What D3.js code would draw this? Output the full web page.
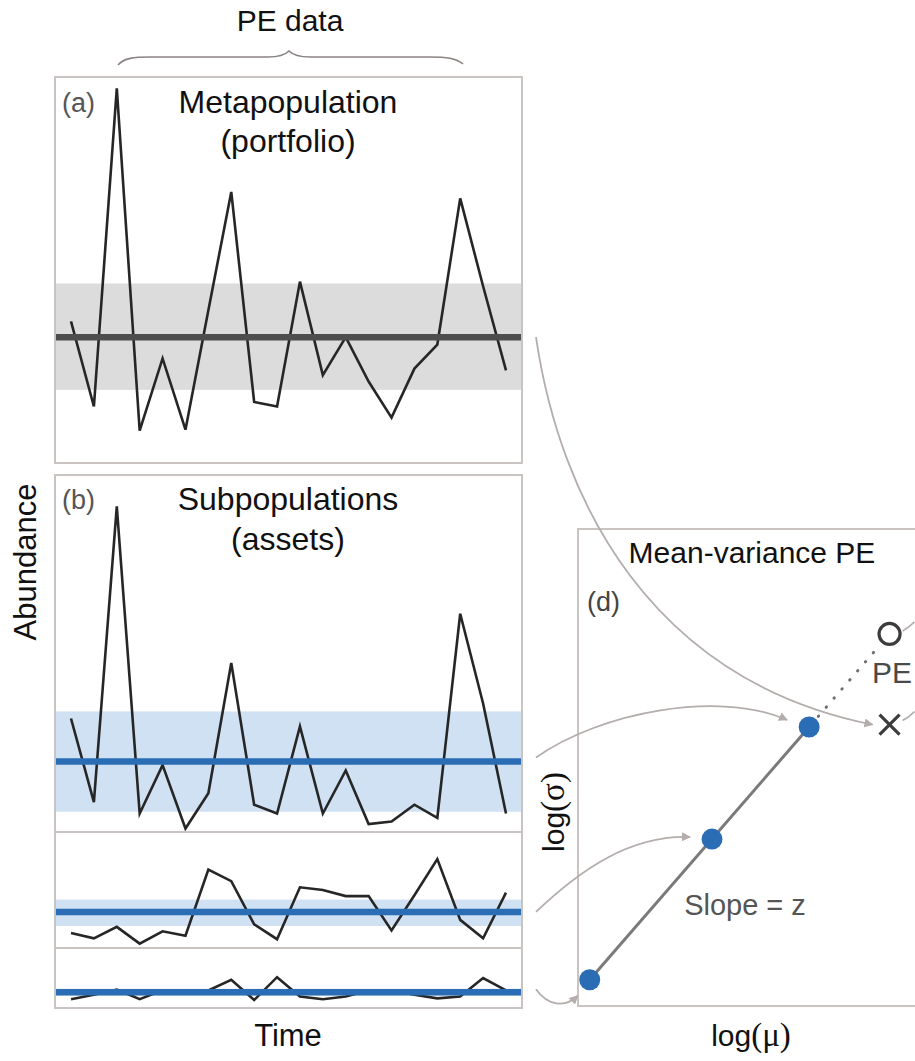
<!DOCTYPE html>
<html lang="en">
<head>
<meta charset="utf-8">
<title>Portfolio effect</title>
<script src="https://d3js.org/d3.v7.min.js"></script>
<style>
body { margin: 0; background: #fff; }
text { font-family: "Liberation Sans", Arial, Helvetica, sans-serif; }
</style>
</head>
<body>
<div id="chart"></div>
<script>

// ---- data ----
// time steps, shared by every panel
var timeSteps = [1, 2, 3, 4, 5, 6, 7, 8, 9, 10, 11, 12, 13, 14, 15, 16, 17, 18, 19, 20];

// (a) metapopulation (portfolio)
var metapop = [13.9, 4.7, 39.1, 2.1, 9.9, 2.2, 15.1, 27.9, 5.2, 4.7, 18.2, 8.1, 12.2, 7.4, 3.5, 8.8, 11.4, 27.2, 17.7, 8.6];
var metaMean = 12.2;
var metaBand = [6.5, 18.0];

// (b) subpopulations (assets)
var sub1 = [12.9, 3.4, 37.0, 2.1, 7.6, 0.4, 4.4, 19.2, 3.1, 2.1, 12.0, 2.1, 7.0, 0.9, 1.2, 3.1, 1.6, 24.8, 14.6, 2.1];
var sub2 = [1.7, 1.1, 2.4, 0.5, 1.9, 1.4, 8.9, 7.6, 2.7, 1.0, 6.9, 6.6, 5.9, 5.9, 2.0, 6.0, 10.1, 3.2, 1.1, 6.3];
var sub3 = [1.0, 1.5, 2.1, 1.0, 2.0, 2.0, 2.0, 3.2, 0.9, 3.5, 1.3, 1.0, 1.3, 2.0, 2.0, 1.5, 1.1, 1.3, 3.4, 2.0];
var subMeans = [8.0, 4.1, 1.8];
var subBands = [[2.3, 13.7], [2.5, 5.5], [1.4, 2.2]];

// (d) mean-variance: one point per subpopulation
var logMu = [0.35, 4.0, 6.9];
var logSigma = [0.55, 3.5, 5.85];
var observedPE = [9.3, 5.9];   // X
var expectedPE = [9.3, 7.8];   // O

// ---- layout ----
var W = 915, H = 1061;
var boxL = 55, boxR = 522;
var grey = "#c9c3c1", arrowGrey = "#b3adab";
var blue = "#2b6db4", lightBlue = "#cfe1f2";

var svg = d3.select("#chart").append("svg")
  .attr("width", W).attr("height", H);

var defs = svg.append("defs");
defs.append("marker")
  .attr("id", "arr").attr("viewBox", "0 0 10 10")
  .attr("refX", 9).attr("refY", 5)
  .attr("markerWidth", 9).attr("markerHeight", 9)
  .attr("markerUnits", "userSpaceOnUse")
  .attr("orient", "auto")
  .append("path").attr("d", "M0,0 L10,5 L0,10 z").attr("fill", arrowGrey);

// time axis shared by (a) and (b)
var x = d3.scaleLinear().domain([1, 20]).range([71, 506]);

function drawSeries(g, vals, y, mean, band, bandCol, meanCol) {
  g.append("rect")
    .attr("x", boxL).attr("width", boxR - boxL)
    .attr("y", y(band[1])).attr("height", y(band[0]) - y(band[1]))
    .attr("fill", bandCol);
  var line = d3.line()
    .x(function(d, i) { return x(timeSteps[i]); })
    .y(function(d) { return y(d); });
  g.append("path").datum(vals)
    .attr("d", line)
    .attr("fill", "none").attr("stroke", "#262626")
    .attr("stroke-width", 2.6).attr("stroke-linejoin", "miter");
  g.append("line")
    .attr("x1", boxL).attr("x2", boxR)
    .attr("y1", y(mean)).attr("y2", y(mean))
    .attr("stroke", meanCol).attr("stroke-width", 6.5);
}

// ---- panel (a) ----
var yA = d3.scaleLinear().domain([0, 40]).range([450, 80]);
var gA = svg.append("g");
drawSeries(gA, metapop, yA, metaMean, metaBand, "#dcdcdc", "#4d4d4d");
gA.append("rect").attr("x", boxL).attr("y", 77).attr("width", boxR - boxL).attr("height", 386)
  .attr("fill", "none").attr("stroke", grey).attr("stroke-width", 2);

// ---- panel (b): three stacked subpopulations, same units per pixel ----
var unitPx = 8.8;
var subBottoms = [832, 948, 1008];
var subs = [sub1, sub2, sub3];
var yB = subBottoms.map(function(b) {
  return d3.scaleLinear().domain([0, 1]).range([b, b - unitPx]);
});
var gB = svg.append("g");
subs.forEach(function(s, i) {
  drawSeries(gB, s, yB[i], subMeans[i], subBands[i], lightBlue, blue);
});
gB.append("rect").attr("x", boxL).attr("y", 475).attr("width", boxR - boxL).attr("height", 533)
  .attr("fill", "none").attr("stroke", grey).attr("stroke-width", 2);
[832, 948].forEach(function(yy) {
  gB.append("line").attr("x1", boxL).attr("x2", boxR).attr("y1", yy).attr("y2", yy)
    .attr("stroke", grey).attr("stroke-width", 2);
});

// ---- panel (d) ----
var xD = d3.scaleLinear().domain([0, 10]).range([578, 913]);
var yD = d3.scaleLinear().domain([0, 10]).range([1006, 529]);
var gD = svg.append("g");
gD.append("rect").attr("x", 578).attr("y", 529).attr("width", 400).attr("height", 477)
  .attr("fill", "none").attr("stroke", grey).attr("stroke-width", 2);

// fitted line through the assets
gD.append("line")
  .attr("x1", xD(logMu[0])).attr("y1", yD(logSigma[0]))
  .attr("x2", xD(logMu[2])).attr("y2", yD(logSigma[2]))
  .attr("stroke", "#7a7a7a").attr("stroke-width", 3);

// dotted PE gap from last asset to expected portfolio
var p3 = [xD(logMu[2]), yD(logSigma[2])], pO = [xD(expectedPE[0]), yD(expectedPE[1])];
var dx = pO[0] - p3[0], dy = pO[1] - p3[1], len = Math.sqrt(dx * dx + dy * dy);
gD.append("line")
  .attr("x1", p3[0] + dx / len * 14).attr("y1", p3[1] + dy / len * 14)
  .attr("x2", pO[0] - dx / len * 16).attr("y2", pO[1] - dy / len * 16)
  .attr("stroke", "#6f6f6f").attr("stroke-width", 3)
  .attr("stroke-linecap", "round").attr("stroke-dasharray", "0.5,11.5");

gD.selectAll("circle.asset").data(logMu).enter().append("circle")
  .attr("class", "asset")
  .attr("cx", function(d) { return xD(d); })
  .attr("cy", function(d, i) { return yD(logSigma[i]); })
  .attr("r", 10.5).attr("fill", blue);

// expected (O) and observed (X) portfolio
gD.append("circle").attr("cx", pO[0]).attr("cy", pO[1]).attr("r", 10.5)
  .attr("fill", "none").attr("stroke", "#3c3c3c").attr("stroke-width", 3.2);
var px = xD(observedPE[0]), py = yD(observedPE[1]);
gD.append("path")
  .attr("d", "M" + (px - 10) + "," + (py - 10) + "L" + (px + 10) + "," + (py + 10) +
             "M" + (px - 10) + "," + (py + 10) + "L" + (px + 10) + "," + (py - 10))
  .attr("stroke", "#3c3c3c").attr("stroke-width", 3.2).attr("fill", "none");

// little tails coming in from the right edge
gD.append("path").attr("d", "M" + (pO[0] + 13) + "," + (pO[1] - 3) + " q6,-3 12,-9")
  .attr("fill", "none").attr("stroke", arrowGrey).attr("stroke-width", 1.6);
gD.append("path").attr("d", "M" + (px + 13) + "," + (py - 4) + " q6,-3 12,-9")
  .attr("fill", "none").attr("stroke", arrowGrey).attr("stroke-width", 1.6);

gD.append("text").attr("x", 872).attr("y", 683).text("PE")
  .attr("font-size", "30px").attr("fill", "#4a4a4a");
gD.append("text").attr("x", 752).attr("y", 563).attr("text-anchor", "middle")
  .text("Mean-variance PE").attr("font-size", "30px").attr("fill", "#111");
gD.append("text").attr("x", 587).attr("y", 611).text("(d)")
  .attr("font-size", "27px").attr("fill", "#444");
gD.append("text").attr("x", 745).attr("y", 915).attr("text-anchor", "middle")
  .text("Slope = z").attr("font-size", "29px").attr("fill", "#555");

var lmu = svg.append("text").attr("x", 751).attr("y", 1046).attr("text-anchor", "middle")
  .attr("font-size", "30px").attr("fill", "#111");
lmu.append("tspan").text("log");
lmu.append("tspan").text("(\u03bc)").style("font-family", "'Liberation Serif', 'DejaVu Serif', serif")
  .attr("font-size", "33px");

var lsig = svg.append("text").attr("transform", "translate(564,812) rotate(-90)")
  .attr("text-anchor", "middle").attr("font-size", "30px").attr("fill", "#111");
lsig.append("tspan").text("log");
lsig.append("tspan").text("(\u03c3)").style("font-family", "'Liberation Serif', 'DejaVu Serif', serif")
  .attr("font-size", "33px");

// ---- arrows: panels (a),(b) into (d) ----
var arrows = [
  // metapopulation mean -> observed X
  {y0: yA(metaMean), c: [[560, 500], [650, 680]], end: [px - 17, py]},
  // each subpopulation mean -> its point
  {y0: yB[0](subMeans[0]) - 4, c: [[600, 712], [720, 690]], end: [xD(logMu[2]) - 22, yD(logSigma[2]) - 7]},
  {y0: yB[1](subMeans[1]), c: [[580, 870], [630, 835]], end: [xD(logMu[1]) - 22, yD(logSigma[1]) - 2]},
  {y0: yB[2](subMeans[2]) - 3, c: [[548, 1006], [565, 1008]], end: [xD(logMu[0]) - 12, yD(logSigma[0]) + 16]}
];
arrows.forEach(function(a) {
  svg.append("path")
    .attr("d", "M536," + a.y0 + " C" + a.c[0] + " " + a.c[1] + " " + a.end)
    .attr("fill", "none").attr("stroke", arrowGrey).attr("stroke-width", 1.8)
    .attr("marker-end", "url(#arr)");
});

// ---- titles and labels ----
svg.append("text").attr("x", 290).attr("y", 31).attr("text-anchor", "middle")
  .text("PE data").attr("font-size", "30px").attr("fill", "#111");
svg.append("path")
  .attr("d", "M118,65 C124,58 134,57 150,57 L268,57 C280,57 285,55 289,51 C293,55 298,57 310,57 L430,57 C446,57 456,58 463,64")
  .attr("fill", "none").attr("stroke", "#8a8482").attr("stroke-width", 1.6);

svg.append("text").attr("x", 62).attr("y", 112).text("(a)")
  .attr("font-size", "27px").attr("fill", "#555");
svg.append("text").attr("x", 288).attr("y", 113).attr("text-anchor", "middle")
  .text("Metapopulation").attr("font-size", "32px").attr("fill", "#111");
svg.append("text").attr("x", 288).attr("y", 152).attr("text-anchor", "middle")
  .text("(portfolio)").attr("font-size", "32px").attr("fill", "#111");

svg.append("text").attr("x", 62).attr("y", 509).text("(b)")
  .attr("font-size", "27px").attr("fill", "#555");
svg.append("text").attr("x", 288).attr("y", 510).attr("text-anchor", "middle")
  .text("Subpopulations").attr("font-size", "32px").attr("fill", "#111");
svg.append("text").attr("x", 288).attr("y", 550).attr("text-anchor", "middle")
  .text("(assets)").attr("font-size", "32px").attr("fill", "#111");

svg.append("text").attr("x", 288).attr("y", 1046).attr("text-anchor", "middle")
  .text("Time").attr("font-size", "31px").attr("fill", "#111");
svg.append("text").attr("transform", "translate(36,562) rotate(-90)")
  .attr("text-anchor", "middle").text("Abundance").attr("font-size", "31px").attr("fill", "#111");

</script>
</body>
</html>
